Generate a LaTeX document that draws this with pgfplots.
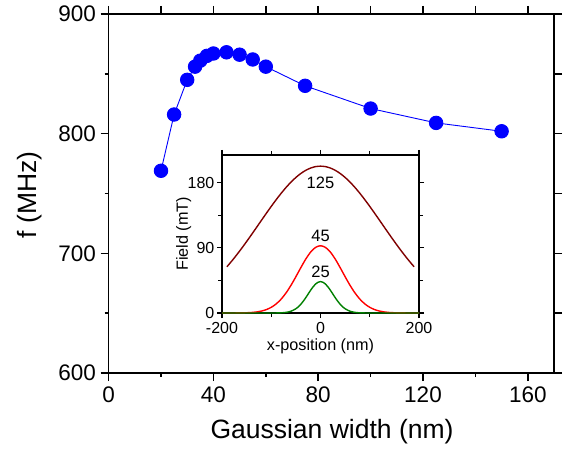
\documentclass[border=0pt]{standalone}
\usepackage{fontspec}
\setmainfont{Liberation Sans}
\usepackage{pgfplots}
\pgfplotsset{compat=1.18}
\definecolor{darkred}{RGB}{128,0,0}
\definecolor{dgreen}{RGB}{0,128,0}
\begin{document}
\begin{tikzpicture}
\begin{axis}[
  name=main, at={(0pt,0pt)}, anchor=south west,
  scale only axis, width=445.4pt, height=359pt,
  xmin=0, xmax=170, ymin=600, ymax=900,
  xtick={0,40,80,120,160}, minor x tick num=1,
  ytick={600,700,800,900}, minor y tick num=1,
  xtick pos=left, ytick pos=left,
  tick align=outside, major tick length=8pt, minor tick length=4pt,
  major tick style={black, line width=1.6pt},
  minor tick style={black, line width=1.6pt},
  axis line style={line width=1.5pt},
  /pgf/number format/assume math mode=true,
  tick label style={font=\fontsize{22.5}{27}\selectfont, inner sep=0pt},
  xticklabel shift=5.5pt, yticklabel shift=4.5pt,
  label style={font=\fontsize{26.5}{32}\selectfont},
  xlabel={Gaussian width (nm)},
  ylabel={f (MHz)},
  xlabel style={at={(axis description cs:0.5016,-0.164)}, anchor=center},
  ylabel style={at={(axis description cs:-0.1765,0.496)}, anchor=center},
]
\addplot[blue, line width=0.9pt, mark=*, mark size=6.75pt, mark options={fill=blue, draw=blue}] coordinates {
 (20,769) (25,816) (30,845) (33,856) (35,861) (37.5,865) (40,867) (45,868) (50,866) (55,862) (60,856) (75,840) (100,821) (125,809) (150,802)
};
\end{axis}
\begin{axis}[
  at={(0pt,0pt)}, anchor=south west,
  scale only axis, width=445.4pt, height=359pt,
  xmin=0, xmax=170, ymin=600, ymax=900,
  xtick={0,20,...,160}, ytick={600,650,...,900},
  xtick pos=right, ytick pos=right,
  xticklabels={}, yticklabels={},
  tick align=outside, major tick length=8pt,
  major tick style={black, line width=1.6pt},
  axis line style={line width=1.5pt},
]
\end{axis}
\begin{axis}[
  at={(113.4pt,60pt)}, anchor=south west,
  scale only axis, width=197pt, height=158pt,
  axis background/.style={fill=white},
  xmin=-200, xmax=200, ymin=0, ymax=218,
  xtick={-200,0,200}, minor xtick={-100,100},
  ytick={0,90,180}, minor ytick={45,135},
  tick align=outside, major tick length=5pt, minor tick length=4pt,
  major tick style={black, line width=1.3pt},
  minor tick style={black, line width=1.3pt},
  axis line style={line width=1.3pt},
  /pgf/number format/assume math mode=true,
  tick label style={font=\fontsize{16}{19}\selectfont, inner sep=0pt},
  xticklabel shift=4pt, yticklabel shift=2.5pt,
  label style={font=\fontsize{16.2}{19}\selectfont},
  xlabel={x-position (nm)},
  ylabel={Field (mT)},
  xlabel style={at={(axis description cs:0.5,-0.213)}, anchor=center},
  ylabel style={at={(axis description cs:-0.194,0.5)}, anchor=center},
]
\addplot[darkred, line width=1.4pt, smooth] coordinates {
 (-190,63.82) (-180,71.84) (-170,80.36) (-160,89.31) (-150,98.62) (-140,108.21) (-130,117.97) (-120,127.80) (-110,137.56) (-100,147.12) (-90,156.34) (-80,165.08) (-70,173.20) (-60,180.55) (-50,187.02) (-40,192.49) (-30,196.85) (-20,200.02) (-10,201.95) (0,202.6)
 (10,201.95) (20,200.02) (30,196.85) (40,192.49) (50,187.02) (60,180.55) (70,173.20) (80,165.08) (90,156.34) (100,147.12) (110,137.56) (120,127.80) (130,117.97) (140,108.21) (150,98.62) (160,89.31) (170,80.36) (180,71.84) (190,63.82)
};
\addplot[red, line width=1.4pt, smooth] coordinates {
 (-200,0) (-180,0.03) (-160,0.17) (-150,0.36) (-140,0.73) (-130,1.43) (-120,2.65) (-110,4.68) (-100,7.86) (-90,12.56) (-80,19.11) (-70,27.68) (-60,38.15) (-50,50.06) (-40,62.52) (-30,74.31) (-20,84.07) (-10,90.54) (0,92.8)
 (10,90.54) (20,84.07) (30,74.31) (40,62.52) (50,50.06) (60,38.15) (70,27.68) (80,19.11) (90,12.56) (100,7.86) (110,4.68) (120,2.65) (130,1.43) (140,0.73) (150,0.36) (160,0.17) (180,0.03) (200,0)
};
\addplot[dgreen, line width=1.4pt, smooth] coordinates {
 (-200,0) (-100,0) (-90,0.07) (-80,0.26) (-70,0.86) (-60,2.43) (-50,5.86) (-45,8.57) (-40,12.04) (-35,16.25) (-30,21.08) (-25,26.26) (-20,31.44) (-15,36.17) (-10,39.97) (-5,42.44) (0,43.3)
 (5,42.44) (10,39.97) (15,36.17) (20,31.44) (25,26.26) (30,21.08) (35,16.25) (40,12.04) (45,8.57) (50,5.86) (60,2.43) (70,0.86) (80,0.26) (90,0.07) (100,0) (200,0)
};
\node[font=\fontsize{16.5}{19}\selectfont] at (axis cs:0,180) {125};
\node[font=\fontsize{16.5}{19}\selectfont] at (axis cs:0,106.6) {45};
\node[font=\fontsize{16.5}{19}\selectfont] at (axis cs:0,57.2) {25};
\end{axis}
\pgfresetboundingbox
\useasboundingbox (-108.6pt,-77pt) rectangle (460.4pt,373pt);
\end{tikzpicture}
\end{document}
